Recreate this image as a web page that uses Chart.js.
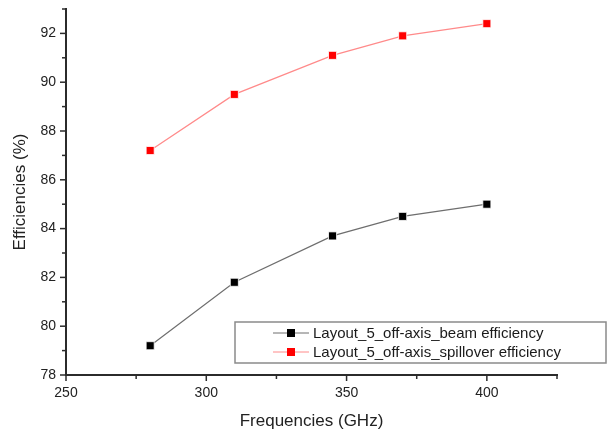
<!DOCTYPE html>
<html>
<head>
<meta charset="utf-8">
<script src="https://cdn.jsdelivr.net/npm/chart.js@4/dist/chart.umd.min.js"></script>
<style>
  html, body { margin: 0; padding: 0; background: #fff; }
  #wrap { width: 608px; height: 432px; }
</style>
</head>
<body>
<div id="wrap"><canvas id="chart1" width="608" height="432"></canvas></div>
<script>
const frequencies = [280, 310, 345, 370, 400];
const beamEff = [79.2, 81.8, 83.7, 84.5, 85.0];
const spillEff = [87.2, 89.5, 91.1, 91.9, 92.4];
const xTicks = [250, 300, 350, 400];
const yTicks = [78, 80, 82, 84, 86, 88, 90, 92];

let ctx = document.getElementById('chart1').getContext('2d');
const axisColor = '#2b2b2b';

function toPoints(xs, ys) {
    return xs.map((x, i) => ({ x: x, y: ys[i] }));
}

// draws major/minor tick marks outside the axes
const tickMarks = {
    id: 'tickMarks',
    afterDraw(chart) {
        const c = chart.ctx;
        const xs = chart.scales.x, ys = chart.scales.y;
        const area = chart.chartArea;
        c.save();
        c.strokeStyle = axisColor;
        c.lineWidth = 1.5;
        for (let v = xs.min; v <= xs.max; v += 25) {
            const px = xs.getPixelForValue(v);
            const len = (v % 50 === 0) ? 6 : 4;
            c.beginPath();
            c.moveTo(px, area.bottom);
            c.lineTo(px, area.bottom + len);
            c.stroke();
        }
        for (let v = ys.min; v <= ys.max; v += 1) {
            const py = ys.getPixelForValue(v);
            const len = (v % 2 === 0) ? 6 : 4;
            c.beginPath();
            c.moveTo(area.left, py);
            c.lineTo(area.left - len, py);
            c.stroke();
        }
        c.restore();
    }
};

// boxed legend inside the plot
const boxLegend = {
    id: 'boxLegend',
    afterDraw(chart) {
        const c = chart.ctx;
        const left = 235, top = 322, right = 606, bottom = 363;
        c.save();
        c.fillStyle = '#fff';
        c.fillRect(left, top, right - left, bottom - top);
        c.strokeStyle = '#8a8a8a';
        c.lineWidth = 1.5;
        c.strokeRect(left, top, right - left, bottom - top);
        c.font = '15px "Liberation Sans", Arial, sans-serif';
        c.textBaseline = 'middle';
        chart.data.datasets.forEach((ds, i) => {
            const y = 333 + i * 19;
            c.strokeStyle = ds.borderColor;
            c.lineWidth = 1;
            c.beginPath();
            c.moveTo(273, y);
            c.lineTo(309, y);
            c.stroke();
            c.fillStyle = ds.pointBackgroundColor;
            c.fillRect(287, y - 4, 8, 8);
            c.fillStyle = '#1a1a1a';
            c.fillText(ds.label, 313, y + 1);
        });
        c.restore();
    }
};

let myChart = new Chart(ctx, {
    type: 'line',
    data: {
        datasets: [{
            label: 'Layout_5_off-axis_beam efficiency',
            data: toPoints(frequencies, beamEff),
            borderColor: '#6e6e6e',
            borderWidth: 1.2,
            pointStyle: 'rect',
            pointRadius: 5.7,
            pointBackgroundColor: '#000000',
            pointBorderColor: '#ffffff',
            pointBorderWidth: 0.8,
            tension: 0
        }, {
            label: 'Layout_5_off-axis_spillover efficiency',
            data: toPoints(frequencies, spillEff),
            borderColor: '#ff8a8a',
            borderWidth: 1.2,
            pointStyle: 'rect',
            pointRadius: 5.7,
            pointBackgroundColor: '#ff0000',
            pointBorderColor: '#ffffff',
            pointBorderWidth: 0.8,
            tension: 0
        }]
    },
    options: {
        responsive: false,
        animation: false,
        layout: { padding: { left: 0, top: 9, right: 51, bottom: 0 } },
        plugins: {
            legend: { display: false },
            tooltip: { enabled: false }
        },
        scales: {
            x: {
                type: 'linear',
                min: 250,
                max: 425,
                afterBuildTicks: (scale) => { scale.ticks = xTicks.map(v => ({ value: v })); },
                afterFit: (scale) => { scale.height = 57; scale.paddingLeft = 0; scale.paddingRight = 0; },
                grid: { display: false, drawTicks: false },
                border: { display: true, color: axisColor, width: 2 },
                ticks: {
                    color: '#222',
                    padding: 10,
                    maxRotation: 0,
                    font: { family: '"Liberation Sans", Arial, sans-serif', size: 14 }
                },
                title: {
                    display: true,
                    text: 'Frequencies (GHz)',
                    color: '#222',
                    padding: { top: 7, bottom: 0 },
                    font: { family: '"Liberation Sans", Arial, sans-serif', size: 17 }
                }
            },
            y: {
                type: 'linear',
                min: 78,
                max: 93,
                afterBuildTicks: (scale) => { scale.ticks = yTicks.map(v => ({ value: v })); },
                afterFit: (scale) => { scale.width = 66; scale.paddingTop = 0; scale.paddingBottom = 0; },
                grid: { display: false, drawTicks: false },
                border: { display: true, color: axisColor, width: 2 },
                ticks: {
                    color: '#222',
                    padding: 10,
                    font: { family: '"Liberation Sans", Arial, sans-serif', size: 14 }
                },
                title: {
                    display: true,
                    text: 'Efficiencies (%)',
                    color: '#222',
                    padding: { top: 10, bottom: 4 },
                    font: { family: '"Liberation Sans", Arial, sans-serif', size: 17 }
                }
            }
        }
    },
    plugins: [tickMarks, boxLegend]
});
</script>
</body>
</html>
